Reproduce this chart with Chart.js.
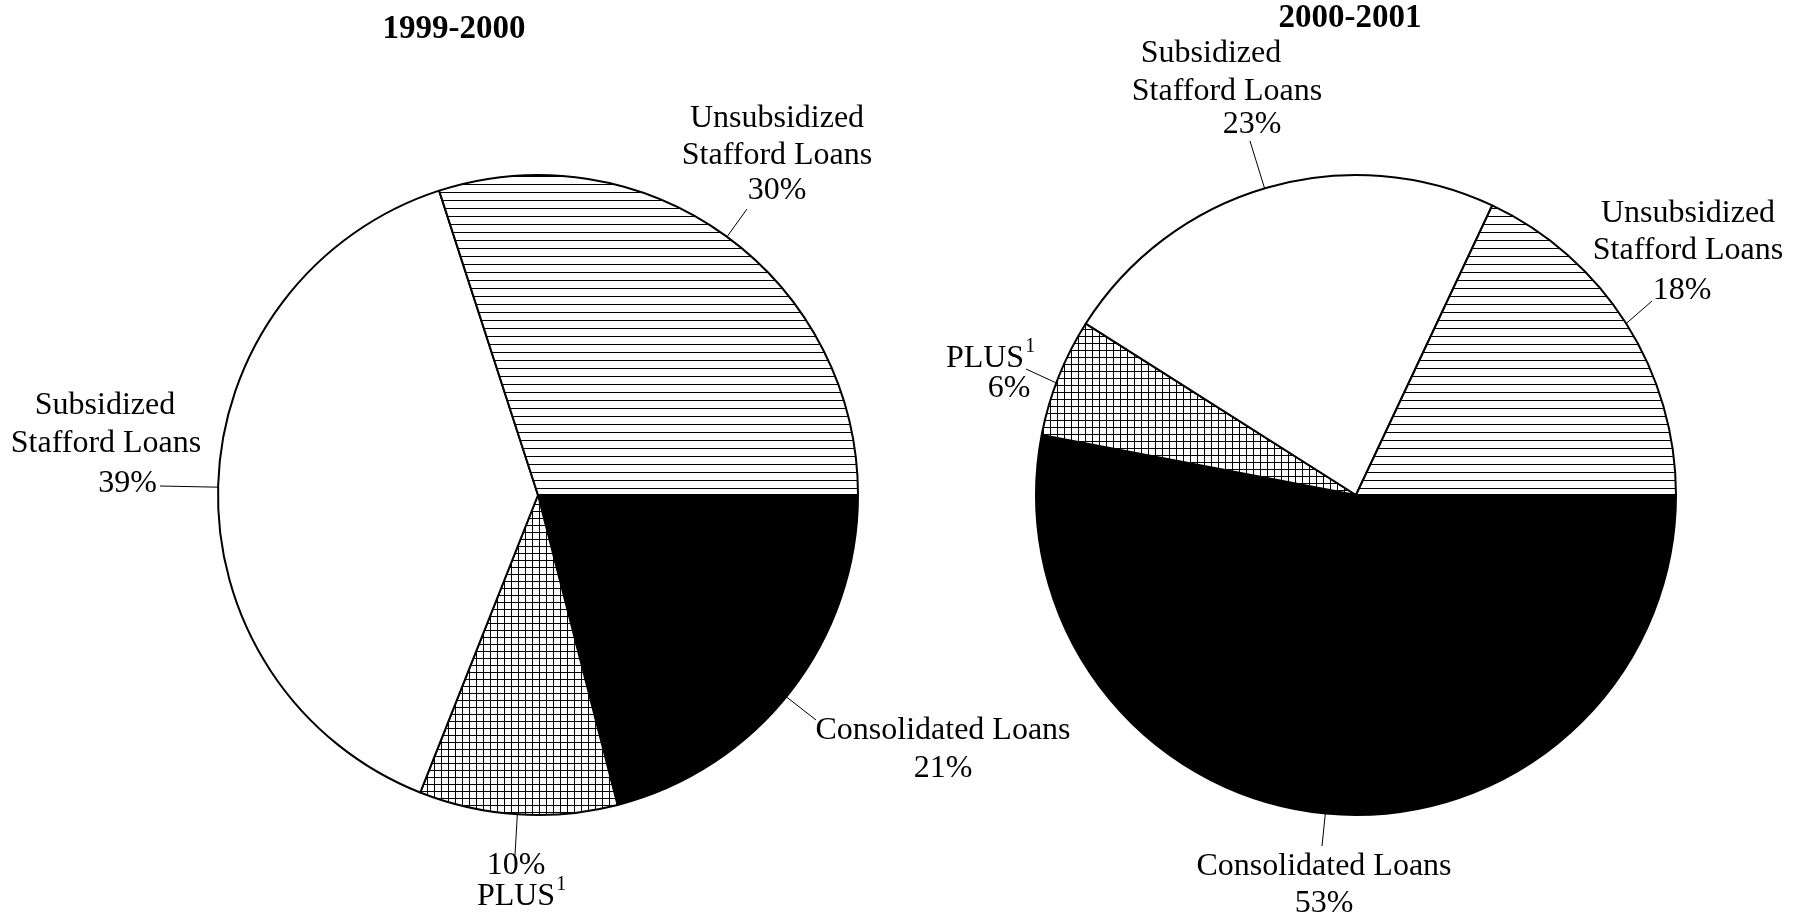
<!DOCTYPE html>
<html>
<head>
<meta charset="utf-8">
<script src="https://cdn.jsdelivr.net/npm/chart.js@4.4.0/dist/chart.umd.min.js"></script>
<style>
html, body { margin: 0; padding: 0; background: #fff; }
#wrap { position: relative; width: 1796px; height: 917px; overflow: hidden; background: #fff; }
canvas { position: absolute; top: 0; left: 0; }
</style>
</head>
<body>
<div id="wrap">
  <canvas id="pie1999" width="1796" height="917"></canvas>
  <canvas id="pie2000" width="1796" height="917"></canvas>
</div>
<script>
// slices go clockwise from 3 o'clock in this order
const categories = ['Consolidated Loans', 'PLUS', 'Subsidized Stafford Loans', 'Unsubsidized Stafford Loans'];
const share1999 = [21, 10, 39, 30];
const share2000 = [53, 6, 23, 18];
const years = ['1999-2000', '2000-2001'];

const FONT = '32px "Liberation Serif", serif';
const SUP_FONT = '20px "Liberation Serif", serif';
const TITLE_FONT = 'bold 33px "Liberation Serif", serif';

function makePattern(size, draw) {
    const c = document.createElement('canvas');
    c.width = size; c.height = size;
    const g = c.getContext('2d');
    g.fillStyle = '#fff';
    g.fillRect(0, 0, size, size);
    g.fillStyle = '#000';
    draw(g, size);
    return g.createPattern(c, 'repeat');
}
const hLines = makePattern(8, (g, s) => g.fillRect(0, 0, s, 1));
const grid = makePattern(7, (g, s) => { g.fillRect(0, 0, s, 1); g.fillRect(0, 0, 1, s); });
const fills = ['#000', grid, '#fff', hLines];

// label layout, offsets from the pie centre (px); angle = where the leader touches the rim
const layout1999 = [
    { angle: 39.1, end: [278, 225], lines: [['Consolidated Loans', 405, 236], ['%', 405, 274]] },
    { angle: 93.7, end: [-23, 360], lines: [['%', -22, 371], ['PLUS', -22, 402, 'center', '1']] },
    { angle: 181.4, end: [-378, -9], lines: [['Subsidized', -433, -89], ['Stafford Loans', -432, -51], ['%', -381, -11, 'right']] },
    { angle: 306.2, end: [209, -286], lines: [['Unsubsidized', 239, -376], ['Stafford Loans', 239, -339], ['%', 239, -304]] }
];
const layout2000 = [
    { angle: 95.5, end: [-34, 351], lines: [['Consolidated Loans', -32, 372], ['%', -32, 409]] },
    { angle: 200.5, end: [-330, -126], lines: [['PLUS', -371, -136, 'center', '1'], ['%', -347, -106]] },
    { angle: 253.4, end: [-106, -354], lines: [['Subsidized', -145, -441], ['Stafford Loans', -129, -403], ['%', -104, -370]] },
    { angle: 327.6, end: [296, -194], lines: [['Unsubsidized', 332, -281], ['Stafford Loans', 332, -244], ['%', 326, -204]] }
];

function drawText(ctx, text, x, y, align, sup) {
    ctx.font = FONT;
    const w = ctx.measureText(text).width;
    let left = x - w / 2;
    if (align === 'right') left = x - w;
    if (align === 'left') left = x;
    ctx.textAlign = 'left';
    ctx.textBaseline = 'middle';
    ctx.fillText(text, left, y);
    if (sup) {
        ctx.font = SUP_FONT;
        ctx.fillText(sup, left + w + 1, y - 12);
    }
}

const calloutPlugin = {
    id: 'callouts',
    afterDraw(chart, args, opts) {
        const ctx = chart.ctx;
        const arc = chart.getDatasetMeta(0).data[0];
        const cx = arc.x, cy = arc.y, R = arc.outerRadius;
        const values = chart.data.datasets[0].data;
        ctx.save();
        ctx.fillStyle = '#000';
        ctx.font = TITLE_FONT;
        ctx.textAlign = 'center';
        ctx.textBaseline = 'middle';
        ctx.fillText(opts.title, cx + opts.titleAt[0], cy + opts.titleAt[1]);

        opts.layout.forEach((lab, i) => {
            const a = lab.angle * Math.PI / 180;
            ctx.strokeStyle = '#000';
            ctx.lineWidth = 1;
            ctx.beginPath();
            ctx.moveTo(cx + R * Math.cos(a), cy + R * Math.sin(a));
            ctx.lineTo(cx + lab.end[0], cy + lab.end[1]);
            ctx.stroke();
            lab.lines.forEach(([t, dx, dy, align, sup]) => {
                const text = t === '%' ? values[i] + '%' : t;
                drawText(ctx, text, cx + dx, cy + dy, align || 'center', sup);
            });
        });
        ctx.restore();
    }
};

function makePie(id, values, title, titleAt, layout, padding) {
    return new Chart(document.getElementById(id).getContext('2d'), {
        type: 'pie',
        data: {
            labels: categories,
            datasets: [{
                data: values,
                backgroundColor: fills,
                borderColor: '#000',
                borderWidth: 2
            }]
        },
        options: {
            responsive: false,
            devicePixelRatio: 1,
            animation: false,
            rotation: 90,
            layout: { padding: padding },
            plugins: {
                legend: { display: false },
                tooltip: { enabled: false },
                callouts: { title: title, titleAt: titleAt, layout: layout }
            }
        },
        plugins: [calloutPlugin]
    });
}

// both canvases span the page, the padding puts each pie in its half
makePie('pie1999', share1999, years[0], [-84, -466], layout1999, { left: 217, right: 937, top: 174, bottom: 101 });
makePie('pie2000', share2000, years[1], [-6, -477], layout2000, { left: 1035, right: 119, top: 174, bottom: 101 });
</script>
</body>
</html>
